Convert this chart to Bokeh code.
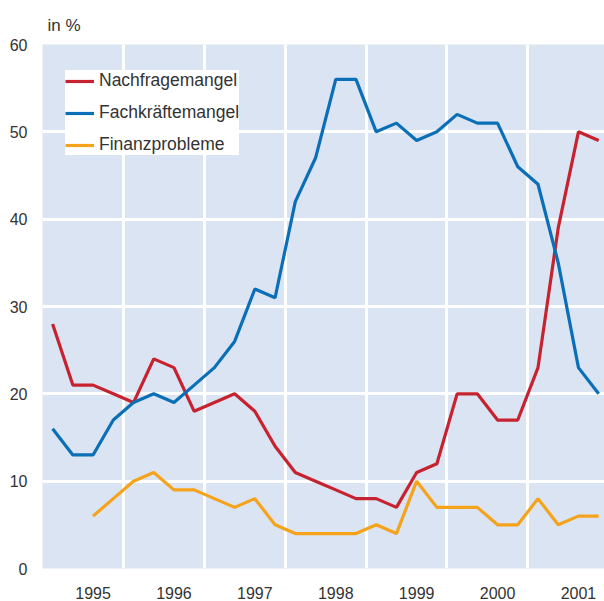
from bokeh.plotting import figure
from bokeh.models import FixedTicker, Legend, LegendItem, Range1d
from bokeh.embed import file_html
from bokeh.resources import INLINE

years = [1995, 1996, 1997, 1998, 1999, 2000, 2001]
quarters = [1, 2, 3, 4]
year_labels = ["1995", "1996", "1997", "1998", "1999", "2000", "2001"]

nachfragemangel = [28, 21, 21, 20, 19, 24, 23, 18, 19, 20, 18, 14,
                   11, 10, 9, 8, 8, 7, 11, 12, 20, 20, 17, 17, 23, 39, 50, 49]
fachkraeftemangel = [16, 13, 13, 17, 19, 20, 19, 21, 23, 26, 32, 31,
                     42, 47, 56, 56, 50, 51, 49, 50, 52, 51, 51, 46, 44, 35, 23, 20]
finanzprobleme = [float("nan"), float("nan"), 6, 8, 10, 11, 9, 9, 8, 7, 8, 5,
                  4, 4, 4, 4, 5, 4, 10, 7, 7, 7, 5, 5, 8, 5, 6, 6]

x = [y + (q - 0.5) / 4 for y in years for q in quarters]

FONT = "Liberation Sans"
TXT = "#333333"

p = figure(width=604, height=601, output_backend="svg", toolbar_location=None,
           x_range=Range1d(1995, 2001.947), y_range=Range1d(0, 60),
           min_border_left=42, min_border_right=0, min_border_top=44, min_border_bottom=31,
           title="in %")
p.outline_line_color = None
p.border_fill_color = "white"
p.background_fill_color = "#DAE4F2"

p.title.text_font = FONT
p.title.text_font_size = "17px"
p.title.text_font_style = "normal"
p.title.text_color = TXT
p.title.align = "left"
p.title.offset = 5
p.title.standoff = 20

r1 = p.line(x, nachfragemangel, line_color="#C7222F", line_width=3.2)
r2 = p.line(x, fachkraeftemangel, line_color="#0A6FB7", line_width=3.2)
r3 = p.line(x, finanzprobleme, line_color="#F5A31A", line_width=3.2)

# axes
p.xaxis.ticker = FixedTicker(ticks=[y + 0.625 for y in years])
p.xaxis.major_label_overrides = {y + 0.625: lab for y, lab in zip(years, year_labels)}
p.yaxis.ticker = FixedTicker(ticks=[0, 10, 20, 30, 40, 50, 60])
for ax in (p.xaxis[0], p.yaxis[0]):
    ax.axis_line_color = None
    ax.major_tick_line_color = None
    ax.minor_tick_line_color = None
    ax.major_label_text_font = FONT
    ax.major_label_text_font_size = "16px"
    ax.major_label_text_color = TXT
p.xaxis.major_label_standoff = 12
p.yaxis.major_label_standoff = 9

p.xgrid.ticker = FixedTicker(ticks=years[1:])
p.xgrid.grid_line_color = "white"
p.xgrid.grid_line_width = 3
p.ygrid.grid_line_color = "white"
p.ygrid.grid_line_width = 3

legend = Legend(items=[
    LegendItem(label="Nachfragemangel", renderers=[r1]),
    LegendItem(label="Fachkräftemangel", renderers=[r2]),
    LegendItem(label="Finanzprobleme", renderers=[r3]),
], location=(23, 413))
legend.border_line_color = None
legend.background_fill_color = "white"
legend.background_fill_alpha = 1.0
legend.label_text_font = FONT
legend.label_text_font_size = "17.5px"
legend.label_text_color = TXT
legend.glyph_width = 29
legend.glyph_height = 20
legend.label_height = 20
legend.label_standoff = 5
legend.spacing = 11
legend.padding = 9
legend.margin = 0
p.add_layout(legend, "center")

open("out.html", "w").write(file_html(p, INLINE))
